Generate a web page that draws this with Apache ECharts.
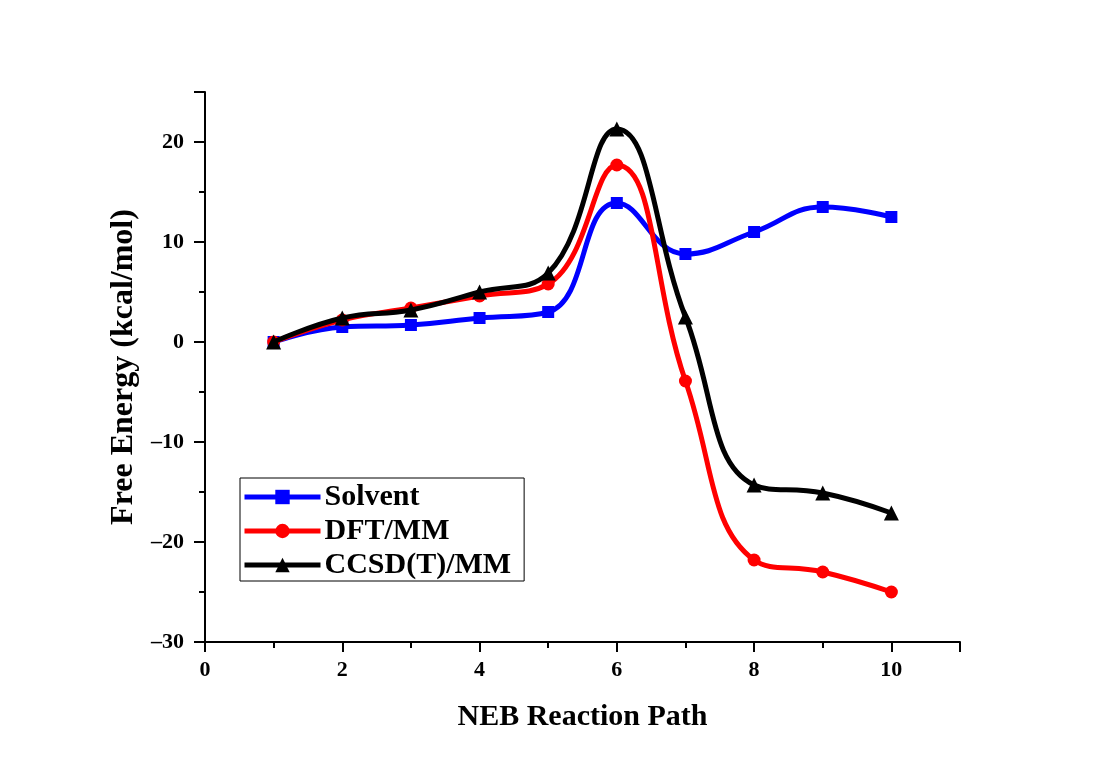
<!DOCTYPE html>
<html><head><meta charset="utf-8">
<script src="https://cdn.jsdelivr.net/npm/echarts@6/dist/echarts.min.js"></script>
<style>html,body{margin:0;padding:0;background:#fff}#c{width:1100px;height:760px}</style>
</head><body><div id="c"></div>
<script>
const pathPoints = [1, 2, 3, 4, 5, 6, 7, 8, 9, 10];
const solvent = [0, 1.5, 1.7, 2.4, 3.0, 13.9, 8.8, 11.0, 13.5, 12.5];
const dftMM = [0, 2.2, 3.4, 4.6, 5.8, 17.7, -3.9, -21.8, -23.0, -25.0];
const ccsdMM = [0, 2.4, 3.2, 5.0, 6.9, 21.3, 2.5, -14.3, -15.1, -17.1];
const seriesNames = ['Solvent', 'DFT/MM', 'CCSD(T)/MM'];
const seriesColors = ['#0000ff', '#ff0000', '#000000'];
const seriesSymbols = ['rect', 'circle', 'triangle'];
const seriesData = [solvent, dftMM, ccsdMM];

const font = '"Liberation Serif", "Times New Roman", serif';
const chart = echarts.init(document.getElementById('c'), null, {renderer: 'canvas'});
chart.setOption({
  backgroundColor: '#ffffff',
  animation: false,
  grid: {left: 205, right: 140, top: 92, bottom: 118},
  legend: {
    orient: 'vertical', left: 240, top: 478,
    data: seriesNames,
    itemWidth: 76, itemHeight: 18, itemGap: 4,
    padding: [4, 13, 1, 2],
    borderColor: '#000', borderWidth: 1,
    lineStyle: {width: 5},
    textStyle: {fontFamily: font, fontWeight: 'bold', fontSize: 30, color: '#000', padding: [0, 0, 0, -1]}
  },
  xAxis: {
    type: 'value', min: 0, max: 11, interval: 2,
    name: 'NEB Reaction Path', nameLocation: 'middle', nameGap: 60,
    nameTextStyle: {fontFamily: font, fontWeight: 'bold', fontSize: 30, color: '#000'},
    axisLine: {onZero: false, lineStyle: {color: '#000', width: 2}},
    axisTick: {show: true, inside: false, length: 10, lineStyle: {color: '#000', width: 2}},
    minorTick: {show: true, splitNumber: 2, length: 6, lineStyle: {color: '#000', width: 2}},
    axisLabel: {showMaxLabel: false, margin: 17, fontFamily: font, fontWeight: 'bold', fontSize: 22, color: '#000'},
    splitLine: {show: false}
  },
  yAxis: {
    type: 'value', min: -30, max: 25, interval: 10,
    name: 'Free Energy (kcal/mol)', nameLocation: 'middle', nameGap: 62, nameRotate: 90,
    nameTextStyle: {fontFamily: font, fontWeight: 'bold', fontSize: 32, color: '#000'},
    axisLine: {onZero: false, lineStyle: {color: '#000', width: 2}},
    axisTick: {show: true, inside: false, length: 11, lineStyle: {color: '#000', width: 2}},
    minorTick: {show: true, splitNumber: 2, length: 6, lineStyle: {color: '#000', width: 2}},
    axisLabel: {
      showMaxLabel: false, margin: 21, fontFamily: font, fontWeight: 'bold', fontSize: 22, color: '#000',
      formatter: v => String(v).replace('-', '\u2013')
    },
    splitLine: {show: false}
  },
  series: seriesNames.map((name, i) => ({
    name: name,
    type: 'line',
    smooth: 0.45,
    data: pathPoints.map((x, j) => [x, seriesData[i][j]]),
    symbol: seriesSymbols[i],
    symbolSize: i === 0 ? 12 : (i === 1 ? 13 : 15),
    showAllSymbol: true,
    lineStyle: {color: seriesColors[i], width: 5},
    itemStyle: {color: seriesColors[i], borderWidth: 0},
    z: 2 + i
  }))
});
</script></body></html>
